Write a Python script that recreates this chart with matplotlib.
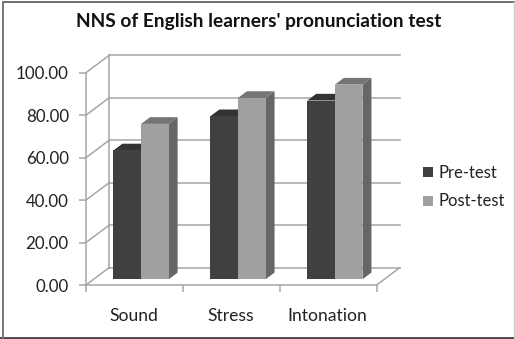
import matplotlib
matplotlib.use('Agg')
import matplotlib.pyplot as plt
from matplotlib.patches import Polygon, Rectangle
from matplotlib.lines import Line2D

categories = ['Sound', 'Stress', 'Intonation']
pre_test = [60.7, 76.8, 84.2]
post_test = [73.2, 85.4, 91.7]
y_ticks = [0, 20, 40, 60, 80, 100]

W, H = 515, 339
plt.rcParams['font.family'] = ['Lato', 'DejaVu Sans']

fig = plt.figure(figsize=(W / 100, H / 100), dpi=100)
fig.patch.set_facecolor('white')

# axes box = front plane of the excel 3d chart
ax = fig.add_axes([86 / W, 1 - 285 / H, 290.7 / W, 212.3 / H])
ax.set_xlim(0, 3)
ax.set_ylim(0, 100)
ax.patch.set_alpha(0)
for s in ['top', 'right', 'left', 'bottom']:
    ax.spines[s].set_visible(False)

# depth of the chart in data units (23.3 px right, 17.5 px up)
DX = 23.3 / 96.9
DY = 17.5 / 2.123
GRID = '#a6a6a6'


def proj(x, y, d):
    return (x + DX * d, y + DY * d)


def poly(points, **kw):
    ax.add_patch(Polygon(points, closed=True, clip_on=False, **kw))


def line(a, b):
    ax.plot([a[0], b[0]], [a[1], b[1]], color=GRID, lw=1.1, clip_on=False, zorder=1)


# walls and floor
for t in y_ticks:
    line(proj(0, t, 0), proj(0, t, 1))
    line(proj(0, t, 1), proj(3, t, 1))
line(proj(0, 0, 0), proj(0, 100, 0))
line(proj(0, 0, 1), proj(0, 100, 1))
line(proj(0, 0, 0), proj(3, 0, 0))
line(proj(3, 0, 0), proj(3, 0, 1))


def bar3d(x, w, h, front, top, side):
    d0, d1 = 0.326, 0.71
    poly([proj(x + w, 0, d0), proj(x + w, 0, d1), proj(x + w, h, d1), proj(x + w, h, d0)],
         facecolor=side, edgecolor='none', zorder=3)
    poly([proj(x, h, d0), proj(x + w, h, d0), proj(x + w, h, d1), proj(x, h, d1)],
         facecolor=top, edgecolor='none', zorder=3)
    poly([proj(x, 0, d0), proj(x + w, 0, d0), proj(x + w, h, d0), proj(x, h, d0)],
         facecolor=front, edgecolor='none', zorder=4)


width = 0.285
for i in range(len(categories)):
    start = i + 0.205
    bar3d(start, width, pre_test[i], '#404040', '#333333', '#404040')
    bar3d(start + width, width, post_test[i], '#a0a0a0', '#757575', '#666666')

ax.set_xticks([0, 1, 2, 3])
ax.set_xticklabels([])
ax.set_yticks(y_ticks)
ax.set_yticklabels(['%.2f' % t for t in y_ticks], fontsize=12.2, color='#222222')
ax.tick_params(axis='y', length=5, width=1.1, color=GRID, pad=7.4)
ax.tick_params(axis='x', length=5, width=1.1, color=GRID)

for i, c in enumerate(categories):
    ax.text(i + 0.49, -14.6, c, ha='center', va='center', fontsize=12.6, color='#222222')

fig.text(259 / W, 1 - 22 / H, "NNS of English learners' pronunciation test", ha='center', va='center',
         fontsize=13.8, fontweight='bold', color='#111111')

# legend
fig.add_artist(Rectangle((423 / W, 1 - 177 / H), 10 / W, 10 / H, transform=fig.transFigure, facecolor='#404040', edgecolor='none'))
fig.add_artist(Rectangle((423 / W, 1 - 206 / H), 10 / W, 10 / H, transform=fig.transFigure, facecolor='#a0a0a0', edgecolor='none'))
fig.text(439 / W, 1 - 172.5 / H, 'Pre-test', va='center', fontsize=12, color='#222222')
fig.text(439 / W, 1 - 201 / H, 'Post-test', va='center', fontsize=12, color='#222222')

# chart frame, heavier on top and bottom
fig.add_artist(Line2D([3 / W, 1], [1 - 1.5 / H, 1 - 1.5 / H], color='#555555', lw=1.2))
fig.add_artist(Line2D([0, 1], [1 - 337.5 / H, 1 - 337.5 / H], color='#444444', lw=2))
fig.add_artist(Line2D([3 / W, 3 / W], [1 - 1.5 / H, 1 - 337.5 / H], color='#777777', lw=1.4))
fig.add_artist(Line2D([514 / W, 514 / W], [1 - 1.5 / H, 1 - 337.5 / H], color='#cccccc', lw=1))

fig.savefig('out.png', dpi=100)
